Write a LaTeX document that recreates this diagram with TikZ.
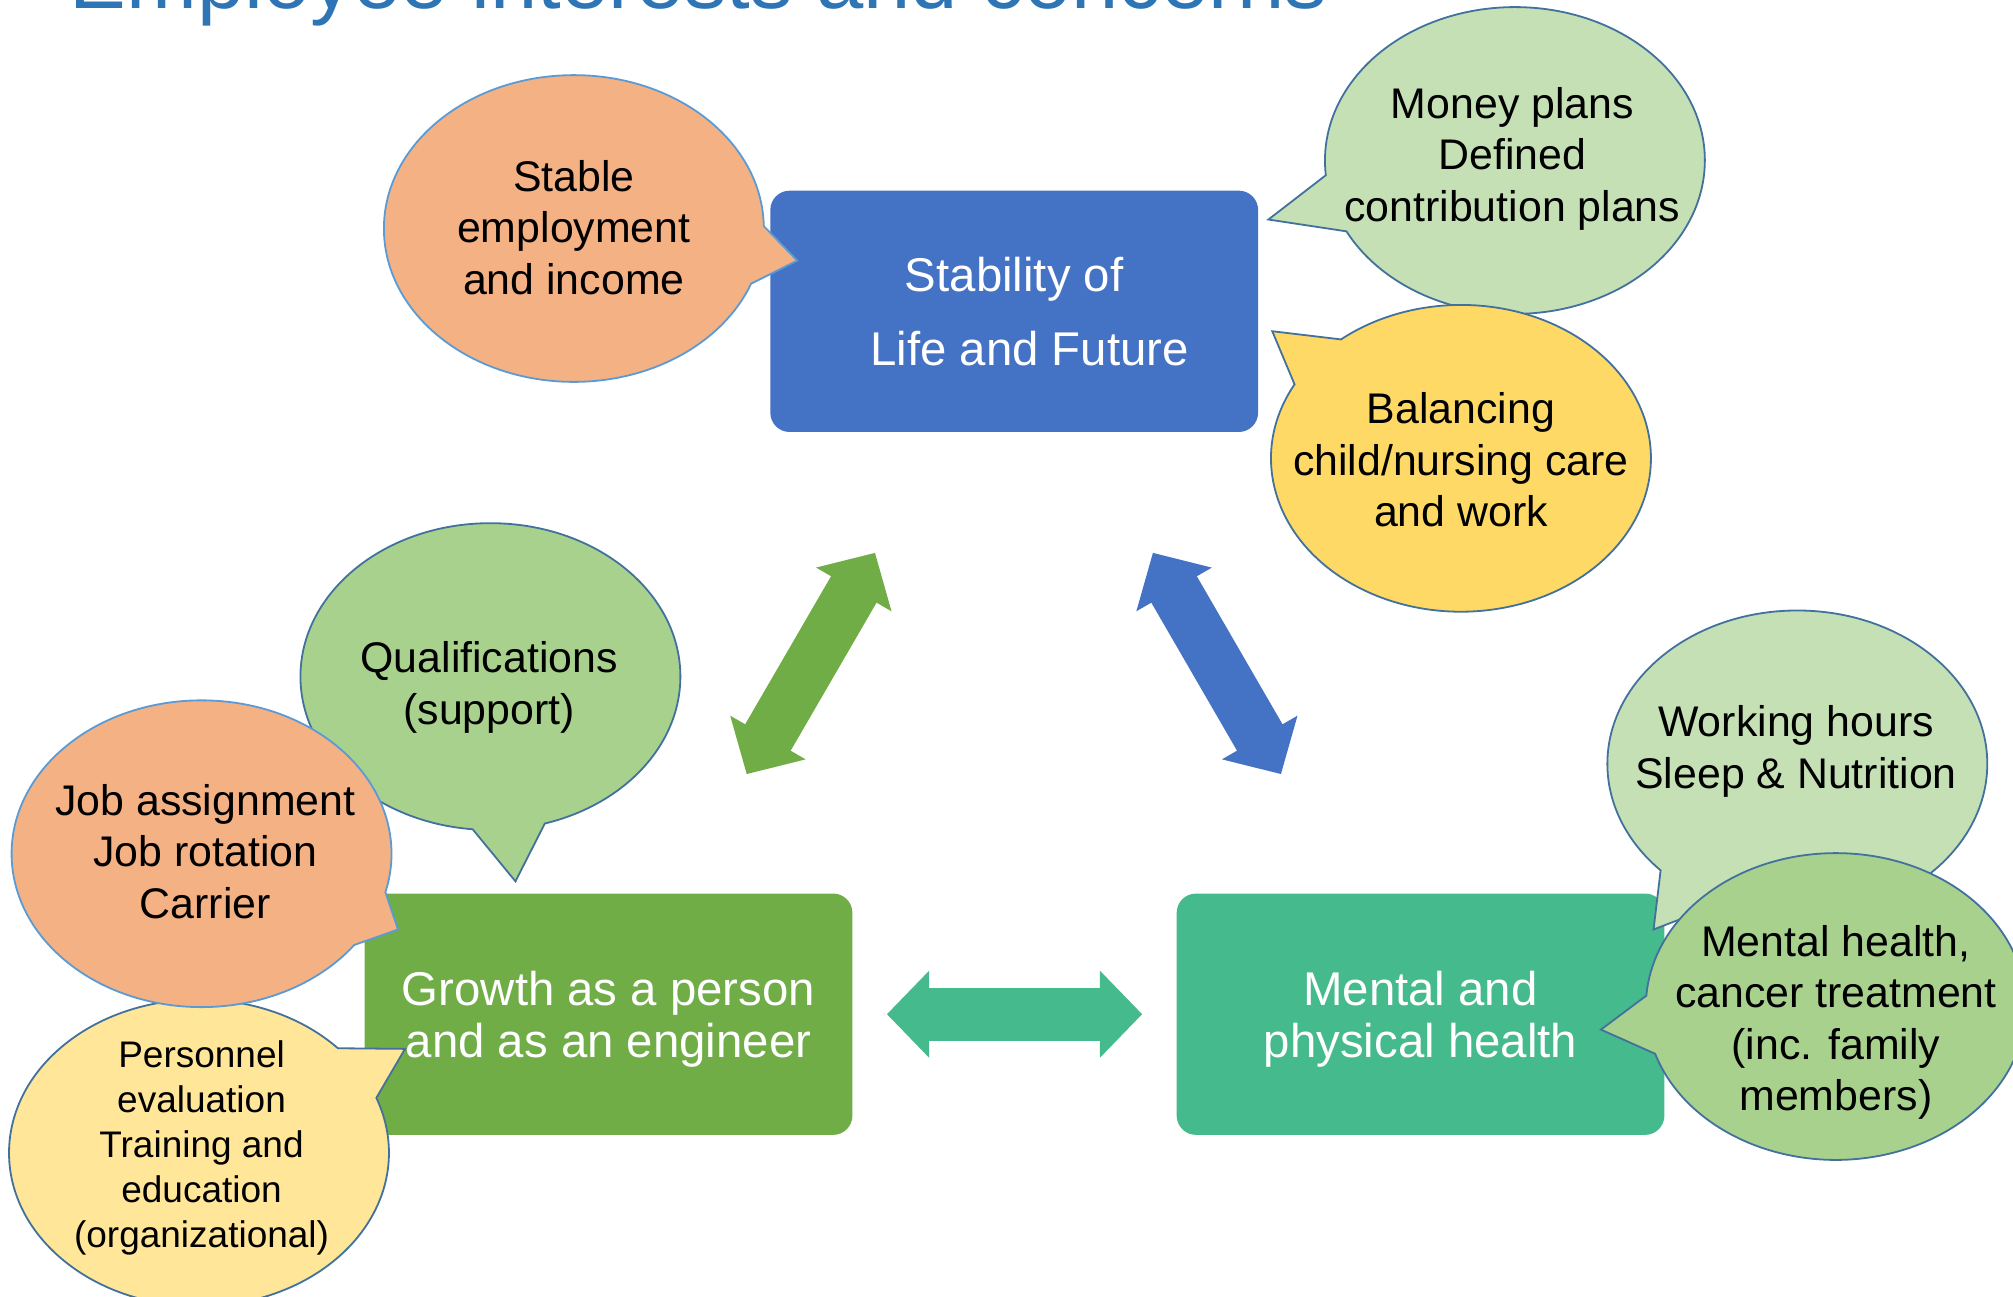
\documentclass[tikz,border=0pt]{standalone}
\usepackage{fontspec}
\setmainfont{Liberation Sans}
\usetikzlibrary{shapes.callouts, arrows.meta, positioning}

\definecolor{boxblue}{HTML}{4472C4}
\definecolor{boxgreen}{HTML}{70AD47}
\definecolor{boxteal}{HTML}{45BA8D}
\definecolor{peach}{HTML}{F4B183}
\definecolor{palegreen}{HTML}{C5E0B4}
\definecolor{midgreen}{HTML}{A9D18E}
\definecolor{gold}{HTML}{FFD966}
\definecolor{paleyellow}{HTML}{FFE699}
\definecolor{edgedark}{HTML}{41719C}
\definecolor{edgelight}{HTML}{5B9BD5}
\definecolor{titleblue}{HTML}{2E75B6}

\tikzset{
	topicbox/.style={rectangle, rounded corners=0.3cm, minimum width=7.6cm, minimum height=3.76cm,
			inner sep=0pt, text depth=0pt, align=center, text=white, font=\fontsize{21}{22.8}\selectfont}
}
\tikzset{
	bubble/.style={ellipse callout, callout pointer arc=22, minimum width=5.92cm, minimum height=4.78cm,
			inner sep=0pt, fill=#1, draw=edgedark, line width=0.8pt}
}
\tikzset{
	bubbletext/.style={inner sep=0pt, text depth=0pt, align=center, font=\fontsize{19}{22.8}\selectfont},
	smallbubbletext/.style={bubbletext, font=\fontsize{16.4}{19.9}\selectfont}
}
\tikzset{
	bigarrow/.style={line width=0.82cm, {Triangle[length=0.66cm,width=1.32cm]}-{Triangle[length=0.66cm,width=1.32cm]}}
}

\begin{document}
\begin{tikzpicture}[x=0.02cm, y=-0.02cm]

	\useasboundingbox (0,0) rectangle (1568,1010);
	\clip (0,0) rectangle (1568,1010);

	% heading, cut off at the top
	\node[anchor=base west, inner sep=0pt, text=titleblue, font=\fontsize{37.7}{44}\selectfont] (title) at (54,6.5) {Employee interests and concerns};

	% the three topics
	\node[topicbox, fill=boxblue, font=\fontsize{21}{32.4}\selectfont] (life) at (790,242.5) {Stability of\\\hspace*{0.48cm}Life and Future};
	\node[topicbox, fill=boxgreen] (growth) at (474,790) {Growth as a person\\and as an engineer};
	\node[topicbox, fill=boxteal] (health) at (1106.5,790) {Mental and\\physical health};

	% arrows between the topics
	\coordinate (gtop) at (681.6,430.6);
	\coordinate (gbot) at (581.6,603);
	\coordinate (btop) at (898,430.6);
	\coordinate (bbot) at (997.8,603);

	\draw[bigarrow, boxgreen] (gbot) -- (gtop);
	\draw[bigarrow, boxblue] (btop) -- (bbot);
	\draw[bigarrow, boxteal, shorten <=0.53cm, shorten >=0.53cm] (growth.east) -- (health.west);

	% bubbles round Stability of Life and Future
	\node[bubble=palegreen, callout absolute pointer={(988,171)}] (money) at (1180,125) {};
	\node[bubbletext] (moneytext) at (1178,120) {Money plans\\Defined\\contribution plans};

	\node[bubble=gold, callout absolute pointer={(991,258)}] (care) at (1138,357) {};
	\node[bubbletext] (caretext) at (1138,358) {Balancing\\child/nursing care\\and work};

	\node[bubble=peach, draw=edgelight, callout absolute pointer={(621,203)}] (income) at (447,178) {};
	\node[bubbletext] (incometext) at (447,177) {Stable\\employment\\and income};

	% bubbles round Growth
	\node[bubble=midgreen, callout absolute pointer={(401.5,686.5)}] (qual) at (382,527) {};
	\node[bubbletext] (qualtext) at (381,532) {Qualifications\\(support)};

	\node[bubble=paleyellow, callout absolute pointer={(315.5,817)}] (review) at (155,898) {};
	\node[smallbubbletext] (reviewtext) at (157,891) {Personnel\\evaluation\\Training and\\education\\(organizational)};

	\node[bubble=peach, draw=edgelight, callout absolute pointer={(310,724)}] (job) at (157,665) {};
	\node[bubbletext] (jobtext) at (160,663) {Job assignment\\Job rotation\\Carrier};

	% bubbles round Mental and physical health
	\node[bubble=palegreen, callout absolute pointer={(1288,724)}] (hours) at (1400,595) {};
	\node[bubbletext] (hourstext) at (1399,582) {Working hours\\Sleep \& Nutrition};

	\node[bubble=midgreen, callout absolute pointer={(1247,802)}] (care2) at (1430,784) {};
	\node[bubbletext] (care2text) at (1430,793) {Mental health,\\cancer treatment\\(inc. family\\members)};

\end{tikzpicture}
\end{document}
